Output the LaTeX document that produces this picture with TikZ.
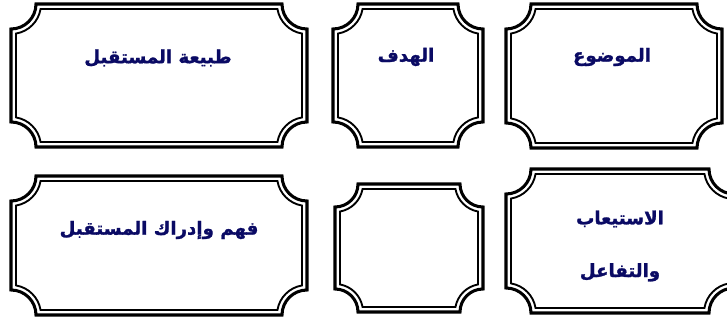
\documentclass[tikz,border=0pt]{standalone}
\usepackage{fontspec}
\newfontfamily\arabicfont[Script=Arabic, BoldFeatures={FakeBold=1.4}]{DejaVu Sans}
\TeXXeTstate=1
\usetikzlibrary{positioning}

\definecolor{labelnavy}{RGB}{10,10,100}

% one rim of a plaque: style, left, bottom, right, top, corner radius, inset
\newcommand{\plaqueline}[7]{%
  \pgfmathsetmacro\plqs{sqrt((#6+#7)^2-(#7)^2)}%
  \pgfmathsetmacro\plqa{asin((#7)/(#6+#7))}%
  \draw[#1] (#2+#7,#3+\plqs) -- (#2+#7,#5-\plqs)
    arc[start angle=\plqa-90, end angle=-\plqa, radius=#6+#7]
    -- (#4-\plqs,#5-#7)
    arc[start angle=180+\plqa, end angle=270-\plqa, radius=#6+#7]
    -- (#4-#7,#3+\plqs)
    arc[start angle=90+\plqa, end angle=180-\plqa, radius=#6+#7]
    -- (#2+\plqs,#3+#7)
    arc[start angle=\plqa, end angle=90-\plqa, radius=#6+#7]
    -- cycle;}

\begin{document}
\begin{tikzpicture}[x=0.03cm, y=0.03cm,
    outerrim/.style={line width=2.6pt, black},
    innerrim/.style={line width=1.6pt, black},
    plaquetext/.style={text=labelnavy, font=\arabicfont\bfseries\fontsize{15.5}{19}\selectfont, align=center}]
  \useasboundingbox (0,0) rectangle (727,320);
  % frames
  \foreach \xa/\ya/\xb/\yb/\rr in {11/173/307/316/25, 333/173/483/316/25, 506/172/722/316/25,
      11/5/307/144/25, 335/8/483/136/23, 506/7/734/151/25} {
    \plaqueline{outerrim}{\xa}{\ya}{\xb}{\yb}{\rr}{0}
    \plaqueline{innerrim}{\xa}{\ya}{\xb}{\yb}{\rr}{5}
  }
  % labels
  \node[plaquetext] (naturetxt) at (158,262) {\beginR طبيعة المستقبل\endR};
  \node[plaquetext] (goaltxt) at (406,263) {\beginR الهدف\endR};
  \node[plaquetext] (topictxt) at (612,263) {\beginR الموضوع\endR};
  \node[plaquetext] (graspingtxt) at (159,90) {\beginR فهم وإدراك المستقبل\endR};
  \node[plaquetext] (absorbtxt) at (620,74) {\beginR الاستيعاب\endR\\[26pt]\beginR والتفاعل\endR};
\end{tikzpicture}
\end{document}
